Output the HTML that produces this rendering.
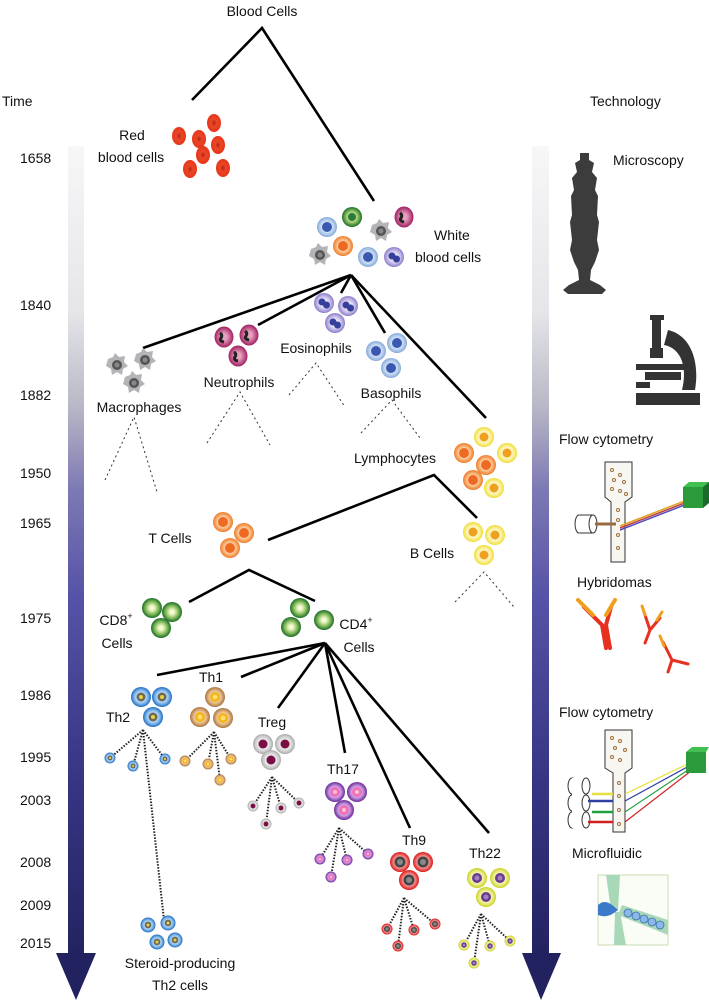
<!DOCTYPE html>
<html><head><meta charset="utf-8"><style>
html,body{margin:0;padding:0;background:#fff}
svg{display:block}
text{font-family:"Liberation Sans",sans-serif;font-size:14px;fill:#111}
</style></head><body>
<svg width="709" height="1000" viewBox="0 0 709 1000" xmlns="http://www.w3.org/2000/svg">
<defs>
<linearGradient id="bar" x1="0" y1="146" x2="0" y2="960" gradientUnits="userSpaceOnUse">
<stop offset="0" stop-color="#f7f7f8"/><stop offset="0.2" stop-color="#e6e6ea"/><stop offset="0.32" stop-color="#b8b8c6"/><stop offset="0.42" stop-color="#7e7ab4"/><stop offset="0.55" stop-color="#5753a8"/><stop offset="0.75" stop-color="#3a3888"/><stop offset="1" stop-color="#232260"/>
</linearGradient>
<radialGradient id="gTh2"><stop offset="0.3" stop-color="#e8f2ff"/><stop offset="0.7" stop-color="#7ab4ea"/><stop offset="1" stop-color="#1e6cc0"/></radialGradient>
<radialGradient id="gTh1"><stop offset="0.3" stop-color="#fff0d8"/><stop offset="0.7" stop-color="#dcae7a"/><stop offset="1" stop-color="#a87440"/></radialGradient>
<radialGradient id="gTreg"><stop offset="0.3" stop-color="#fafafa"/><stop offset="0.75" stop-color="#d0d0d0"/><stop offset="1" stop-color="#a8a8a8"/></radialGradient>
<radialGradient id="gTh17"><stop offset="0.3" stop-color="#f4e4fa"/><stop offset="0.7" stop-color="#b07ad0"/><stop offset="1" stop-color="#6a2a96"/></radialGradient>
<radialGradient id="gTh9"><stop offset="0.3" stop-color="#ffe8e8"/><stop offset="0.7" stop-color="#f07070"/><stop offset="1" stop-color="#d81818"/></radialGradient>
<radialGradient id="gTh22"><stop offset="0.3" stop-color="#fdfde0"/><stop offset="0.7" stop-color="#e8ec80"/><stop offset="1" stop-color="#c8d020"/></radialGradient>
<radialGradient id="gGr"><stop offset="0.2" stop-color="#f4fad0"/><stop offset="0.6" stop-color="#8cc060"/><stop offset="1" stop-color="#1a6e28"/></radialGradient>
<radialGradient id="gOr"><stop offset="0.3" stop-color="#fff2e0"/><stop offset="0.7" stop-color="#f8b070"/><stop offset="1" stop-color="#ee7a2a"/></radialGradient>
<radialGradient id="gYe"><stop offset="0.3" stop-color="#fffde8"/><stop offset="0.7" stop-color="#faf09a"/><stop offset="1" stop-color="#f0dc30"/></radialGradient>
<radialGradient id="gBa"><stop offset="0.3" stop-color="#f0f6ff"/><stop offset="0.7" stop-color="#b8d0ee"/><stop offset="1" stop-color="#86a8d8"/></radialGradient>
<radialGradient id="gEo"><stop offset="0.3" stop-color="#f2f0fc"/><stop offset="0.7" stop-color="#c0b4e6"/><stop offset="1" stop-color="#8a7cc8"/></radialGradient>
<radialGradient id="gNe"><stop offset="0.3" stop-color="#e8a0c0"/><stop offset="1" stop-color="#a02060"/></radialGradient>
<radialGradient id="gRbc"><stop offset="0" stop-color="#b82010"/><stop offset="0.4" stop-color="#e84828"/><stop offset="1" stop-color="#e83418"/></radialGradient>

<g id="cTh2"><circle r="10" fill="url(#gTh2)"/><circle r="4.5" fill="#6a6a5a"/><circle r="2" fill="#e8d040"/></g>
<g id="cTh1"><circle r="10" fill="url(#gTh1)"/><circle r="5" fill="#f7b418"/><circle r="2.4" fill="#ffe070"/></g>
<g id="cTreg"><circle r="10" fill="url(#gTreg)"/><circle r="4.5" fill="#7a0e44"/></g>
<g id="cTh17"><circle r="10" fill="url(#gTh17)"/><circle r="5" fill="#f070b8"/><circle r="2" fill="#ffc0e0"/></g>
<g id="cTh9"><circle r="10" fill="url(#gTh9)"/><circle r="5.5" fill="#444"/><circle r="3" fill="#888"/></g>
<g id="cTh22"><circle r="10" fill="url(#gTh22)"/><circle r="5" fill="#6a3a8e"/><circle r="2.5" fill="#a080c0"/></g>
<g id="cGr"><circle r="10" fill="url(#gGr)"/></g>
<g id="cOr"><circle r="10" fill="url(#gOr)"/><circle r="5" fill="#ee6a22"/></g>
<g id="cYe"><circle r="10" fill="url(#gYe)"/><circle r="4.5" fill="#f0a020"/></g>
<g id="cBa"><circle r="10" fill="url(#gBa)"/><circle r="5" fill="#3a58b0"/></g>
<g id="cEo"><circle r="10" fill="url(#gEo)"/><circle cx="-2" cy="-1" r="3.5" fill="#34409a"/><circle cx="2.5" cy="2" r="3.5" fill="#34409a"/></g>
<g id="cNe"><ellipse rx="9.5" ry="10.5" fill="url(#gNe)"/><path d="M-4,-4 q3,2 1,5 q-2,3 3,4" stroke="#222" stroke-width="3" fill="none"/></g>
<g id="cMa"><path d="M-9,-6 L-4,-8 L-2,-12 L2,-8 L8,-9 L7,-3 L11,1 L6,4 L5,10 L0,7 L-5,10 L-6,4 L-11,1 Z" fill="#b4b4b8"/><circle r="5" fill="#555"/><circle r="2.5" fill="#888"/></g>
<g id="cRbc"><ellipse rx="7" ry="9" fill="url(#gRbc)"/></g>
</defs>

<rect x="68" y="146" width="16" height="810" fill="url(#bar)"/>
<polygon points="56,953 96,953 76,1000" fill="#232260"/>
<rect x="532" y="146" width="17" height="810" fill="url(#bar)"/>
<polygon points="522,953 561,953 541,1000" fill="#232260"/>

<text x="262" y="16" text-anchor="middle">Blood Cells</text>
<text x="2" y="106">Time</text>
<text x="590" y="106">Technology</text>

<g font-size="14">
<text x="20" y="163">1658</text>
<text x="20" y="310">1840</text>
<text x="20" y="400">1882</text>
<text x="20" y="478">1950</text>
<text x="20" y="528">1965</text>
<text x="20" y="623">1975</text>
<text x="20" y="700">1986</text>
<text x="20" y="762">1995</text>
<text x="20" y="805">2003</text>
<text x="20" y="867">2008</text>
<text x="20" y="910">2009</text>
<text x="20" y="948">2015</text>
</g>

<g stroke="#000" stroke-width="2.6" fill="none" stroke-linecap="butt">
<polyline points="192,100 262,28 374,201"/>
<line x1="351" y1="275" x2="143" y2="348"/>
<line x1="351" y1="275" x2="258" y2="325"/>
<line x1="351" y1="275" x2="341" y2="293"/>
<line x1="351" y1="275" x2="385" y2="333"/>
<line x1="351" y1="275" x2="486" y2="418"/>
<polyline points="268,540 434,475 477,518"/>
<polyline points="189,602 249,570 315,601"/>
<line x1="325" y1="643" x2="157" y2="675"/>
<line x1="325" y1="643" x2="241" y2="677"/>
<line x1="325" y1="643" x2="278" y2="708"/>
<line x1="325" y1="643" x2="345" y2="753"/>
<line x1="325" y1="643" x2="410" y2="828"/>
<line x1="325" y1="643" x2="489" y2="833"/>
</g>

<g stroke="#333" stroke-width="1" stroke-dasharray="2,3" fill="none">
<polyline points="105,480 134,417 157,492"/>
<polyline points="207,443 240,392 270,445"/>
<polyline points="289,395 316,363 345,407"/>
<polyline points="361,433 392,400 420,438"/>
<polyline points="455,602 484,572 514,607"/>
</g>

<g stroke="#222" stroke-width="2" stroke-dasharray="1.5,1.5" fill="none">
<path d="M143,730 L110,758 M143,730 L133,766 M143,730 L165,759 M143,730 L164,920"/>
<path d="M214,732 L185,761 M214,732 L208,764 M214,732 L231,759 M214,732 L220,780"/>
<path d="M272,777 L253,806 M272,777 L281,808 M272,777 L299,803 M272,777 L266,824"/>
<path d="M339,828 L320,859 M339,828 L347,860 M339,828 L368,854 M339,828 L331,877"/>
<path d="M404,898 L387,929 M404,898 L414,930 M404,898 L435,924 M404,898 L398,946"/>
<path d="M481,914 L464,945 M481,914 L490,946 M481,914 L510,941 M481,914 L474,963"/>
</g>

<use href="#cRbc" x="214" y="123"/><use href="#cRbc" x="179" y="136"/><use href="#cRbc" x="199" y="139"/><use href="#cRbc" x="218" y="145"/><use href="#cRbc" x="203" y="155"/><use href="#cRbc" x="190" y="169"/><use href="#cRbc" x="223" y="168"/>
<text x="132" y="140" text-anchor="middle">Red</text>
<text x="131" y="162" text-anchor="middle">blood cells</text>

<use href="#cBa" x="327" y="227"/>
<g transform="translate(352,217)"><circle r="10" fill="url(#gGr)"/><circle r="4" fill="#2a7a3a"/></g>
<use href="#cNe" x="404" y="217"/>
<use href="#cMa" x="381" y="231"/>
<use href="#cOr" x="343" y="246"/>
<use href="#cBa" x="368" y="257"/>
<use href="#cEo" x="394" y="257"/>
<use href="#cMa" x="320" y="255"/>
<text x="434" y="240">White</text>
<text x="415" y="262">blood cells</text>

<use href="#cMa" x="145" y="360"/><use href="#cMa" x="117" y="365"/><use href="#cMa" x="134" y="383"/>
<use href="#cNe" x="224" y="337"/><use href="#cNe" x="249" y="335"/><use href="#cNe" x="238" y="356"/>
<use href="#cEo" x="324" y="303"/><use href="#cEo" x="348" y="306"/><use href="#cEo" x="335" y="323"/>
<use href="#cBa" x="397" y="343"/><use href="#cBa" x="376" y="351"/><use href="#cBa" x="391" y="368"/>
<text x="316" y="353" text-anchor="middle">Eosinophils</text>
<text x="239" y="387" text-anchor="middle">Neutrophils</text>
<text x="391" y="398" text-anchor="middle">Basophils</text>
<text x="139" y="412" text-anchor="middle">Macrophages</text>

<use href="#cYe" x="484" y="437"/><use href="#cOr" x="464" y="453"/><use href="#cYe" x="507" y="453"/><use href="#cOr" x="486" y="465"/><use href="#cOr" x="473" y="480"/><use href="#cYe" x="494" y="488"/>
<text x="395" y="463" text-anchor="middle">Lymphocytes</text>

<use href="#cOr" x="223" y="522"/><use href="#cOr" x="244" y="533"/><use href="#cOr" x="230" y="548"/>
<text x="170" y="543" text-anchor="middle">T Cells</text>
<use href="#cYe" x="473" y="532"/><use href="#cYe" x="495" y="535"/><use href="#cYe" x="484" y="555"/>
<text x="432" y="558" text-anchor="middle">B Cells</text>

<use href="#cGr" x="152" y="608"/><use href="#cGr" x="172" y="612"/><use href="#cGr" x="161" y="628"/>
<text x="116" y="625" text-anchor="middle">CD8<tspan font-size="9" dy="-6">+</tspan></text>
<text x="117" y="648" text-anchor="middle">Cells</text>
<use href="#cGr" x="300" y="608"/><use href="#cGr" x="324" y="620"/><use href="#cGr" x="291" y="627"/>
<text x="356" y="629" text-anchor="middle">CD4<tspan font-size="9" dy="-6">+</tspan></text>
<text x="359" y="652" text-anchor="middle">Cells</text>

<use href="#cTh2" x="141" y="697"/><use href="#cTh2" x="162" y="697"/><use href="#cTh2" x="153" y="717"/>
<text x="118" y="722" text-anchor="middle">Th2</text>
<use href="#cTh1" x="215" y="697"/><use href="#cTh1" x="200" y="717"/><use href="#cTh1" x="223" y="718"/>
<text x="211" y="682" text-anchor="middle">Th1</text>
<use href="#cTreg" x="263" y="744"/><use href="#cTreg" x="285" y="744"/><use href="#cTreg" x="271" y="760"/>
<text x="272" y="727" text-anchor="middle">Treg</text>
<use href="#cTh17" x="335" y="792"/><use href="#cTh17" x="357" y="792"/><use href="#cTh17" x="344" y="810"/>
<text x="343" y="774" text-anchor="middle">Th17</text>
<use href="#cTh9" x="400" y="862"/><use href="#cTh9" x="423" y="862"/><use href="#cTh9" x="409" y="880"/>
<text x="414" y="845" text-anchor="middle">Th9</text>
<use href="#cTh22" x="477" y="878"/><use href="#cTh22" x="500" y="878"/><use href="#cTh22" x="486" y="897"/>
<text x="485" y="858" text-anchor="middle">Th22</text>

<g transform="translate(110,758) scale(0.55)"><use href="#cTh2"/></g>
<g transform="translate(133,766) scale(0.55)"><use href="#cTh2"/></g>
<g transform="translate(165,759) scale(0.55)"><use href="#cTh2"/></g>
<g transform="translate(185,761) scale(0.55)"><use href="#cTh1"/></g>
<g transform="translate(208,764) scale(0.55)"><use href="#cTh1"/></g>
<g transform="translate(231,759) scale(0.55)"><use href="#cTh1"/></g>
<g transform="translate(220,780) scale(0.55)"><use href="#cTh1"/></g>
<g transform="translate(253,806) scale(0.55)"><use href="#cTreg"/></g>
<g transform="translate(281,808) scale(0.55)"><use href="#cTreg"/></g>
<g transform="translate(299,803) scale(0.55)"><use href="#cTreg"/></g>
<g transform="translate(266,824) scale(0.55)"><use href="#cTreg"/></g>
<g transform="translate(320,859) scale(0.55)"><use href="#cTh17"/></g>
<g transform="translate(347,860) scale(0.55)"><use href="#cTh17"/></g>
<g transform="translate(368,854) scale(0.55)"><use href="#cTh17"/></g>
<g transform="translate(331,877) scale(0.55)"><use href="#cTh17"/></g>
<g transform="translate(387,929) scale(0.55)"><use href="#cTh9"/></g>
<g transform="translate(414,930) scale(0.55)"><use href="#cTh9"/></g>
<g transform="translate(435,924) scale(0.55)"><use href="#cTh9"/></g>
<g transform="translate(398,946) scale(0.55)"><use href="#cTh9"/></g>
<g transform="translate(464,945) scale(0.55)"><use href="#cTh22"/></g>
<g transform="translate(490,946) scale(0.55)"><use href="#cTh22"/></g>
<g transform="translate(510,941) scale(0.55)"><use href="#cTh22"/></g>
<g transform="translate(474,963) scale(0.55)"><use href="#cTh22"/></g>

<g transform="translate(148,925) scale(0.75)"><use href="#cTh2"/></g>
<g transform="translate(168,923) scale(0.75)"><use href="#cTh2"/></g>
<g transform="translate(157,942) scale(0.75)"><use href="#cTh2"/></g>
<g transform="translate(175,940) scale(0.75)"><use href="#cTh2"/></g>
<text x="180" y="968" text-anchor="middle">Steroid-producing</text>
<text x="180" y="990" text-anchor="middle">Th2 cells</text>

<text x="613" y="165">Microscopy</text>
<path d="M580,153 L589,153 L589,160 L594,163 L592,172 L597,178 L595,190 L598,196 L597,215 L599,222 L597,240 L599,250 L595,262 L591,270 L590,280 L600,285 L606,290 L602,294 L568,294 L563,290 L569,285 L579,280 L578,270 L574,262 L570,250 L572,240 L570,222 L572,215 L571,196 L574,190 L572,178 L577,172 L575,163 L580,160 Z" fill="#3c3c3c"/>
<g fill="#333">
<rect x="650" y="315" width="14" height="5"/>
<rect x="652" y="320" width="9" height="28"/>
<path d="M668,330 C690,335 700,360 695,390 L682,390 C688,365 680,348 664,345 Z"/>
<rect x="650" y="348" width="13" height="10"/>
<rect x="636" y="364" width="52" height="6"/>
<rect x="645" y="372" width="36" height="8"/>
<rect x="636" y="382" width="14" height="6"/>
<rect x="636" y="393" width="64" height="12"/>
</g>

<text x="559" y="444">Flow cytometry</text>
<g stroke="#333" stroke-width="1" fill="#fff">
<path d="M605,462 L632,462 L632,497 L625,502 L625,562 L611,562 L611,502 L605,497 Z" fill="#f8f6f0"/>
<ellipse cx="579" cy="524" rx="4" ry="9"/>
<rect x="579" y="515" width="14" height="18" fill="#fff" stroke="none"/>
<path d="M579,515 L593,515 M579,533 L593,533"/>
<ellipse cx="593" cy="524" rx="4" ry="9"/>
</g>
<line x1="595" y1="524" x2="616" y2="524" stroke="#9a6a40" stroke-width="3"/>
<g stroke-width="1.5"><line x1="620" y1="526" x2="700" y2="495" stroke="#e0a020"/><line x1="620" y1="528" x2="700" y2="497" stroke="#c04040"/><line x1="620" y1="530" x2="700" y2="499" stroke="#5050c0"/></g>
<polygon points="683,487 703,487 703,508 683,508" fill="#2a9a3a"/><polygon points="683,487 689,482 709,482 703,487" fill="#40c050"/><polygon points="703,487 709,482 709,503 703,508" fill="#1a6a2a"/>
<g fill="none" stroke="#a07040" stroke-width="1"><circle cx="612" cy="470" r="1.5"/><circle cx="620" cy="475" r="1.5"/><circle cx="614" cy="480" r="1.5"/><circle cx="624" cy="482" r="1.5"/><circle cx="612" cy="489" r="1.5"/><circle cx="620" cy="491" r="1.5"/><circle cx="626" cy="494" r="1.5"/><circle cx="618" cy="510" r="1.5"/><circle cx="618" cy="520" r="1.5"/><circle cx="618" cy="535" r="1.5"/><circle cx="618" cy="548" r="1.5"/></g>

<text x="577" y="587">Hybridomas</text>
<g stroke-linecap="round" fill="none">
<path d="M584,607 L602,625 L606,648 M611,607 L606,625 L610,648" stroke="#e83020" stroke-width="4"/>
<path d="M578,600 L593,615 M615,600 L606,615" stroke="#f0a020" stroke-width="4"/>
<path d="M644,612 L650,630 L645,643 M660,618 L650,630" stroke="#e83020" stroke-width="3"/>
<path d="M642,606 L645,615 M662,612 L657,620" stroke="#f0a020" stroke-width="3"/>
<path d="M663,642 L672,660 L688,664 M672,660 L668,672" stroke="#e83020" stroke-width="3"/>
<path d="M660,636 L664,646" stroke="#f0a020" stroke-width="3"/>
</g>

<text x="559" y="717">Flow cytometry</text>
<g stroke="#333" stroke-width="1">
<path d="M605,730 L632,730 L632,768 L625,773 L625,832 L613,832 L613,773 L605,768 Z" fill="#f8f6f0"/>
<g fill="#fff"><ellipse cx="572" cy="786" rx="4" ry="8"/><ellipse cx="572" cy="803" rx="4" ry="8"/><ellipse cx="572" cy="820" rx="4" ry="8"/>
<rect x="572" y="778" width="14" height="50" stroke="none"/>
<ellipse cx="586" cy="786" rx="4" ry="8"/><ellipse cx="586" cy="803" rx="4" ry="8"/><ellipse cx="586" cy="820" rx="4" ry="8"/></g>
</g>
<g stroke-width="2.5"><line x1="592" y1="794" x2="613" y2="794" stroke="#e8e040"/><line x1="588" y1="801" x2="613" y2="801" stroke="#3040a0"/><line x1="592" y1="812" x2="613" y2="812" stroke="#20a040"/><line x1="588" y1="822" x2="613" y2="822" stroke="#d02020"/></g>
<g stroke-width="1.2"><line x1="625" y1="794" x2="700" y2="758" stroke="#e8e040"/><line x1="625" y1="801" x2="700" y2="760" stroke="#3040a0"/><line x1="625" y1="812" x2="700" y2="762" stroke="#20a040"/><line x1="625" y1="822" x2="700" y2="764" stroke="#d02020"/></g>
<polygon points="686,752 706,752 706,773 686,773" fill="#2a9a3a"/><polygon points="686,752 692,747 709,747 706,752" fill="#40c050"/>
<g fill="none" stroke="#a07040" stroke-width="1"><circle cx="612" cy="738" r="1.5"/><circle cx="620" cy="741" r="1.5"/><circle cx="615" cy="748" r="1.5"/><circle cx="625" cy="750" r="1.5"/><circle cx="612" cy="757" r="1.5"/><circle cx="620" cy="760" r="1.5"/><circle cx="619" cy="783" r="1.5"/><circle cx="619" cy="796" r="1.5"/><circle cx="619" cy="810" r="1.5"/><circle cx="619" cy="824" r="1.5"/></g>

<text x="572" y="858">Microfluidic</text>
<rect x="598" y="875" width="70" height="70" fill="#fafcf6" stroke="#c8dcb0"/>
<path d="M606,875 L620,875 L618,910 L611,910 Z M614,945 L626,945 L620,912 L615,912 Z" fill="#a8d8b8"/>
<path d="M622,905 L668,920 L668,935 L618,915 Z" fill="#a8d8b8"/>
<path d="M598,905 C606,898 612,905 618,910 C612,915 606,918 598,915 Z" fill="#3a7ac8"/>
<g fill="#8ab8e8" stroke="#3a70b0" stroke-width="0.8"><circle cx="628" cy="913" r="4"/><circle cx="636" cy="916" r="4"/><circle cx="644" cy="919" r="4"/><circle cx="652" cy="922" r="4"/><circle cx="660" cy="925" r="4"/></g>
</svg>
</body></html>
